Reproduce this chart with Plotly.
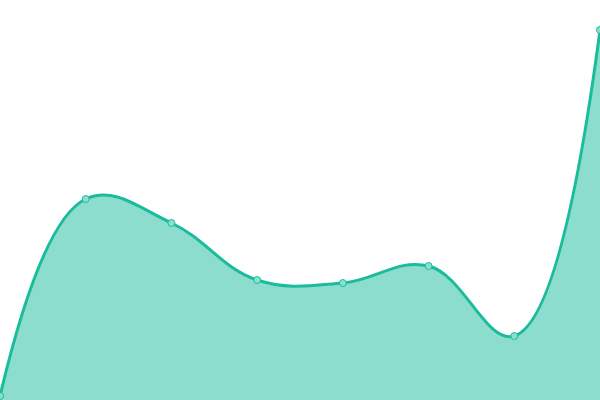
import plotly.graph_objects as go

categories = [0, 1, 2, 3, 4, 5, 6, 7]
values = [1, 50.25, 44.25, 30, 29.25, 33.5, 16, 92.5]

fig = go.Figure()
fig.add_trace(go.Scatter(
    x=categories, y=values,
    mode="lines+markers",
    line=dict(color="#1abc9c", width=3, shape="spline", smoothing=1.15),
    fill="tozeroy",
    fillcolor="rgba(26,188,156,0.5)",
    marker=dict(size=7, color="#8ae0cf", line=dict(color="#1abc9c", width=1)),
    cliponaxis=False,
    hoverinfo="skip",
))
fig.update_layout(
    width=600, height=400,
    margin=dict(l=0, r=0, t=0, b=0),
    paper_bgcolor="white", plot_bgcolor="white",
    showlegend=False,
    xaxis=dict(visible=False, range=[0, 7]),
    yaxis=dict(visible=False, range=[0, 100]),
)
fig.write_html(
    "out.html",
    config={"displayModeBar": False, "staticPlot": True},
    post_script="document.body.style.margin='0';document.body.style.overflow='hidden';",
)
